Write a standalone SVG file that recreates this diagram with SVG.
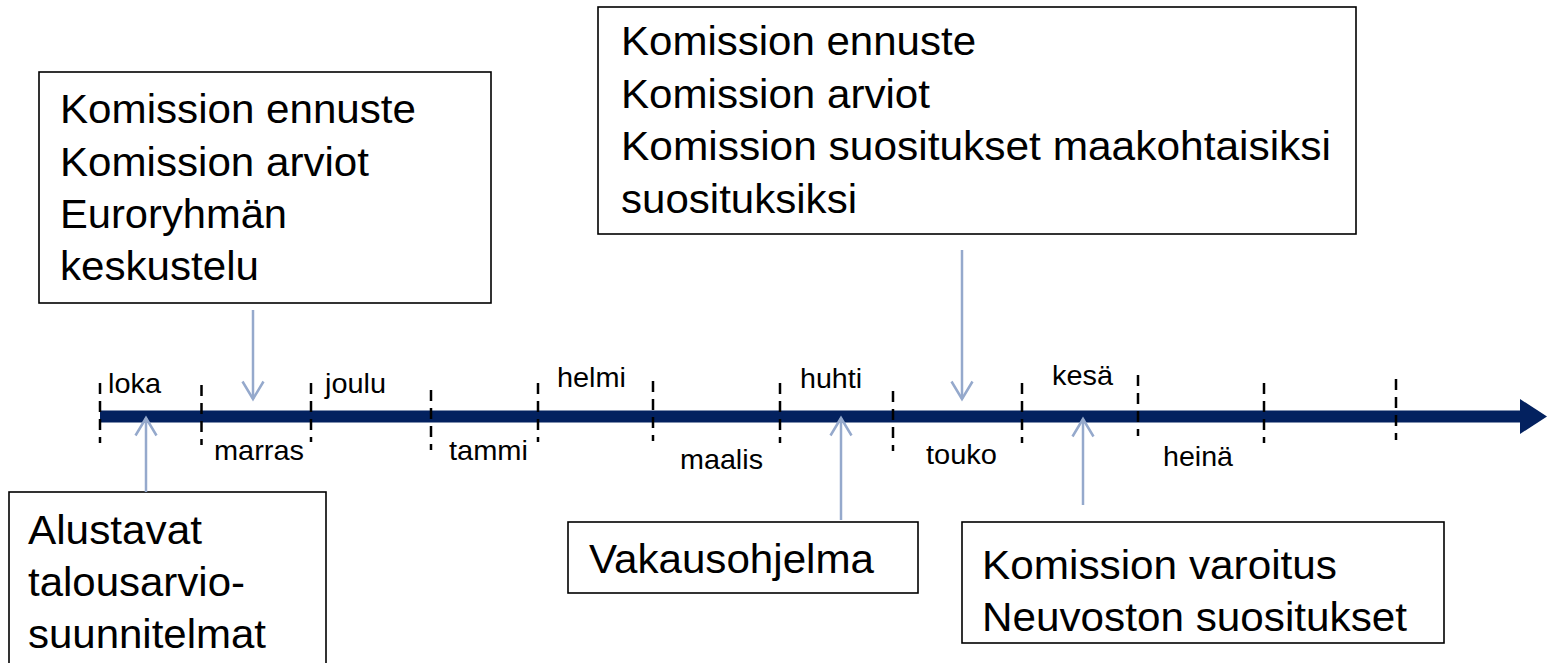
<svg xmlns="http://www.w3.org/2000/svg" width="1547" height="663" viewBox="0 0 1547 663">
  <style>
    .box { fill: #ffffff; stroke: #000000; stroke-width: 1.6; }
    .big { font-family: "Liberation Sans", Arial, sans-serif; font-size: 40px; fill: #000000; }
    .small { font-family: "Liberation Sans", Arial, sans-serif; font-size: 27.5px; fill: #000000; }
    .tick { stroke: #000000; stroke-width: 2.5; stroke-dasharray: 11 7; fill: none; }
    .conn { stroke: #95A9CC; stroke-width: 2.5; fill: none; marker-end: url(#open); }
  </style>
  <defs>
    <marker id="open" markerUnits="userSpaceOnUse" markerWidth="24" markerHeight="26" refX="19" refY="12" orient="auto">
      <path d="M1.5,1.5 L19,12 L1.5,22.5" fill="none" stroke="#95A9CC" stroke-width="2.5"/>
    </marker>
  </defs>
  <rect width="1547" height="663" fill="#ffffff"/>

  <g id="timeline">
    <rect x="100" y="410.5" width="1422" height="12" fill="#03215F"/>
    <polygon points="1520,399 1547,416.5 1520,434" fill="#03215F"/>
    <line class="tick" x1="100" y1="383" x2="100" y2="443"/>
    <line class="tick" x1="201.5" y1="385" x2="201.5" y2="445"/>
    <line class="tick" x1="311" y1="383" x2="311" y2="442"/>
    <line class="tick" x1="431" y1="390" x2="431" y2="450"/>
    <line class="tick" x1="538" y1="383" x2="538" y2="442"/>
    <line class="tick" x1="653" y1="381" x2="653" y2="441"/>
    <line class="tick" x1="780" y1="383" x2="780" y2="443"/>
    <line class="tick" x1="893" y1="391" x2="893" y2="451"/>
    <line class="tick" x1="1022" y1="383" x2="1022" y2="443"/>
    <line class="tick" x1="1138" y1="375" x2="1138" y2="436"/>
    <line class="tick" x1="1264" y1="383" x2="1264" y2="443"/>
    <line class="tick" x1="1396" y1="379" x2="1396" y2="440"/>
    <text class="small" x="108" y="393" textLength="53" lengthAdjust="spacingAndGlyphs">loka</text>
    <text class="small" x="325" y="393" textLength="61" lengthAdjust="spacingAndGlyphs">joulu</text>
    <text class="small" x="557" y="387" textLength="69" lengthAdjust="spacingAndGlyphs">helmi</text>
    <text class="small" x="800" y="388" textLength="62" lengthAdjust="spacingAndGlyphs">huhti</text>
    <text class="small" x="1052" y="385" textLength="61" lengthAdjust="spacingAndGlyphs">kesä</text>
    <text class="small" x="214" y="460" textLength="90" lengthAdjust="spacingAndGlyphs">marras</text>
    <text class="small" x="449" y="460" textLength="79" lengthAdjust="spacingAndGlyphs">tammi</text>
    <text class="small" x="680" y="469" textLength="83" lengthAdjust="spacingAndGlyphs">maalis</text>
    <text class="small" x="926" y="464" textLength="71" lengthAdjust="spacingAndGlyphs">touko</text>
    <text class="small" x="1163" y="466" textLength="70" lengthAdjust="spacingAndGlyphs">heinä</text>
  </g>

  <g id="box-autumn">
    <rect class="box" x="39" y="72" width="452" height="231"/>
    <text class="big" x="60" y="123" textLength="356" lengthAdjust="spacingAndGlyphs">Komission ennuste</text>
    <text class="big" x="60" y="175.5" textLength="309" lengthAdjust="spacingAndGlyphs">Komission arviot</text>
    <text class="big" x="60" y="228" textLength="227" lengthAdjust="spacingAndGlyphs">Euroryhmän</text>
    <text class="big" x="60" y="280" textLength="199" lengthAdjust="spacingAndGlyphs">keskustelu</text>
  </g>

  <g id="box-spring">
    <rect class="box" x="598" y="7" width="758" height="227"/>
    <text class="big" x="621" y="55" textLength="355" lengthAdjust="spacingAndGlyphs">Komission ennuste</text>
    <text class="big" x="621" y="107.5" textLength="309" lengthAdjust="spacingAndGlyphs">Komission arviot</text>
    <text class="big" x="621" y="160" textLength="710" lengthAdjust="spacingAndGlyphs">Komission suositukset maakohtaisiksi</text>
    <text class="big" x="621" y="212.5" textLength="236" lengthAdjust="spacingAndGlyphs">suosituksiksi</text>
  </g>

  <g id="box-draft">
    <rect class="box" x="9" y="492" width="317" height="220"/>
    <text class="big" x="28" y="544" textLength="174" lengthAdjust="spacingAndGlyphs">Alustavat</text>
    <text class="big" x="28" y="596" textLength="217" lengthAdjust="spacingAndGlyphs">talousarvio-</text>
    <text class="big" x="28" y="648" textLength="238" lengthAdjust="spacingAndGlyphs">suunnitelmat</text>
  </g>

  <g id="box-stability">
    <rect class="box" x="568" y="522" width="350" height="71"/>
    <text class="big" x="589" y="573" textLength="285" lengthAdjust="spacingAndGlyphs">Vakausohjelma</text>
  </g>

  <g id="box-warning">
    <rect class="box" x="962" y="522" width="482" height="121"/>
    <text class="big" x="982" y="579" textLength="355" lengthAdjust="spacingAndGlyphs">Komission varoitus</text>
    <text class="big" x="982" y="631" textLength="425" lengthAdjust="spacingAndGlyphs">Neuvoston suositukset</text>
  </g>

  <g id="connectors">
    <line class="conn" x1="253" y1="310" x2="253" y2="399"/>
    <line class="conn" x1="962" y1="250" x2="962" y2="399"/>
    <line class="conn" x1="146" y1="492" x2="146" y2="418"/>
    <line class="conn" x1="841" y1="520" x2="841" y2="418"/>
    <line class="conn" x1="1083" y1="505" x2="1083" y2="419"/>
  </g>
</svg>
